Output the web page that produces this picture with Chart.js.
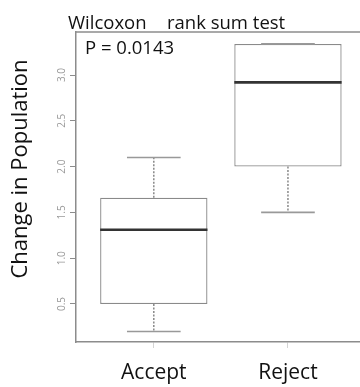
<!DOCTYPE html>
<html>
<head>
<meta charset="utf-8">
<script src="https://cdn.jsdelivr.net/npm/chart.js@4/dist/chart.umd.min.js"></script>
<style>
  html, body { margin: 0; padding: 0; background: #fff; overflow: hidden; }
  #wrap { position: relative; width: 360px; height: 387px; }
</style>
</head>
<body>
<div id="wrap"><canvas id="c" width="360" height="387"></canvas></div>
<script>
// Group labels and five-number summaries of change in population
const categories = ['Accept', 'Reject'];
const mins    = [0.20, 1.50];
const q1      = [0.50, 2.00];
const medians = [1.31, 2.92];
const q3      = [1.66, 3.34];
const maxs    = [2.10, 3.34];

// Y-axis tick values
const yTicks = [0.5, 1.0, 1.5, 2.0, 2.5, 3.0];

const titleText = ['Wilcoxon', 'rank sum test'];
const pText = 'P = 0.0143';
const yTitle = 'Change in Population';

const FONT = '"Open Sans", "DejaVu Sans", sans-serif';

// Box bodies as floating bars positioned at x = 1, 2
const boxData = categories.map((c, i) => ({ x: i + 1, y: [q1[i], q3[i]] }));

// Draws median, whiskers, caps, frame and free text
const boxExtras = {
  id: 'boxExtras',
  afterDatasetsDraw(chart) {
    const { ctx, chartArea, scales: { x, y } } = chart;
    ctx.save();
    // top frame line
    ctx.strokeStyle = '#8c8c8c';
    ctx.lineWidth = 1.5;
    ctx.beginPath();
    ctx.moveTo(chartArea.left, chartArea.top);
    ctx.lineTo(chartArea.right, chartArea.top);
    ctx.stroke();

    categories.forEach((c, i) => {
      const cx = x.getPixelForValue(i + 1);
      const halfBox = (x.getPixelForValue(i + 1.4) - x.getPixelForValue(i + 0.6)) / 2;
      const halfCap = halfBox / 2;
      // whiskers (dotted)
      ctx.strokeStyle = '#808080';
      ctx.lineWidth = 1.4;
      ctx.setLineDash([2, 1.5]);
      ctx.beginPath();
      ctx.moveTo(cx, y.getPixelForValue(q3[i]));
      ctx.lineTo(cx, y.getPixelForValue(maxs[i]));
      ctx.moveTo(cx, y.getPixelForValue(q1[i]));
      ctx.lineTo(cx, y.getPixelForValue(mins[i]));
      ctx.stroke();
      ctx.setLineDash([]);
      // caps
      ctx.strokeStyle = '#999999';
      ctx.lineWidth = 1.6;
      ctx.beginPath();
      [mins[i], maxs[i]].forEach(v => {
        const py = y.getPixelForValue(v);
        ctx.moveTo(cx - halfCap, py);
        ctx.lineTo(cx + halfCap, py);
      });
      ctx.stroke();
      // median
      ctx.strokeStyle = '#333333';
      ctx.lineWidth = 2.6;
      ctx.beginPath();
      const my = y.getPixelForValue(medians[i]);
      ctx.moveTo(cx - halfBox, my);
      ctx.lineTo(cx + halfBox, my);
      ctx.stroke();
    });

    // titles
    ctx.fillStyle = '#111';
    ctx.textBaseline = 'alphabetic';
    ctx.textAlign = 'left';
    ctx.font = '18.5px ' + FONT;
    ctx.fillText(titleText[0], 68, 29);
    ctx.fillText(titleText[1], 167, 29);
    ctx.font = '18.5px ' + FONT;
    ctx.fillText(pText, 85, 54);

    // y-axis title
    ctx.font = '22px ' + FONT;
    ctx.translate(27, 169);
    ctx.rotate(-Math.PI / 2);
    ctx.textAlign = 'center';
    ctx.fillText(yTitle, 0, 0);
    ctx.restore();
  }
};

new Chart(document.getElementById('c'), {
  type: 'bar',
  data: {
    datasets: [{
      data: boxData,
      backgroundColor: '#ffffff',
      borderColor: '#8a8a8a',
      borderWidth: 1.3,
      borderSkipped: false,
      barPercentage: 0.8,
      categoryPercentage: 1.0
    }]
  },
  options: {
    responsive: false,
    animation: false,
    devicePixelRatio: 1,
    layout: { padding: { top: 32, right: 0, left: 0, bottom: 0 } },
    plugins: { legend: { display: false }, tooltip: { enabled: false }, title: { display: false } },
    scales: {
      x: {
        type: 'linear',
        offset: false,
        min: 0.42,
        max: 2.537,
        afterBuildTicks: s => { s.ticks = categories.map((c, i) => ({ value: i + 1 })); },
        afterFit: s => { s.height = 45; },
        ticks: {
          callback: v => categories[v - 1],
          color: '#111',
          font: { family: FONT, size: 21 },
          padding: 12,
          maxRotation: 0
        },
        grid: { offset: false, drawOnChartArea: false, drawTicks: true, tickLength: 6, color: '#d4d4d4' },
        border: { color: '#8c8c8c', width: 1.5 }
      },
      y: {
        type: 'linear',
        min: 0.085,
        max: 3.47,
        afterBuildTicks: s => { s.ticks = yTicks.map(v => ({ value: v })); },
        afterFit: s => { s.width = 76; },
        ticks: {
          callback: v => v.toFixed(1),
          color: '#9a9a9a',
          font: { family: FONT, size: 10 },
          minRotation: 90,
          maxRotation: 90,
          crossAlign: 'center',
          padding: 1
        },
        grid: { drawOnChartArea: false, drawTicks: true, tickLength: 6, color: '#8c8c8c' },
        border: { color: '#8c8c8c', width: 1.5 }
      }
    }
  },
  plugins: [boxExtras]
});
</script>
</body>
</html>
